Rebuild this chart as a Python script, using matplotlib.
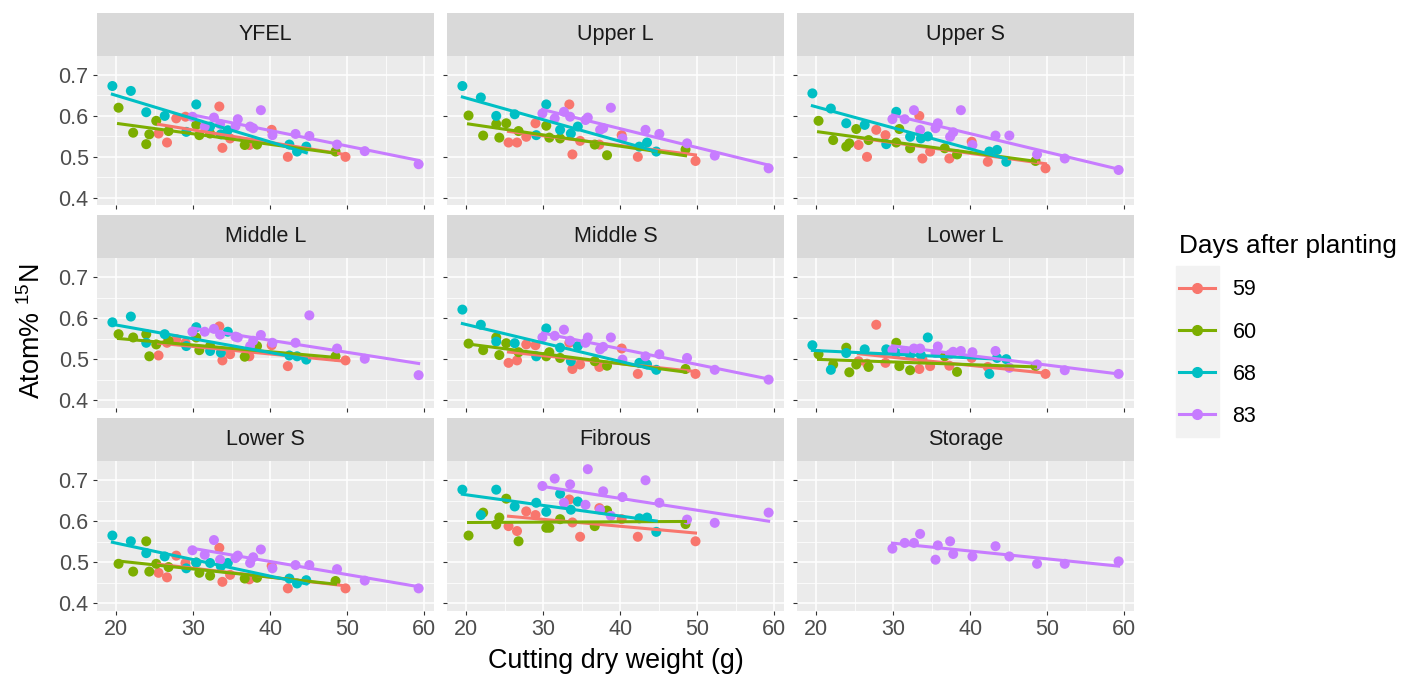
import numpy as np
import matplotlib.pyplot as plt
from matplotlib.lines import Line2D
from matplotlib.patches import Rectangle

plt.rcParams['font.family'] = ['Liberation Sans', 'DejaVu Sans']
plt.rcParams['mathtext.fontset'] = 'custom'
plt.rcParams['mathtext.rm'] = 'Liberation Sans'

# Days after planting and their colours
days = [59, 60, 68, 83]
colors = ['#F8766D', '#7CAE00', '#00BFC4', '#C77CFF']

# Cutting dry weight (g) of the plants sampled at each harvest
x59 = [25.5, 26.6, 27.8, 29.0, 33.4, 33.8, 34.8, 37.3, 40.2, 42.3, 49.8]
x60 = [20.3, 22.2, 23.9, 24.3, 25.2, 26.8, 30.4, 30.8, 32.2, 36.7, 38.3, 48.5]
x68 = [19.5, 21.9, 23.9, 26.3, 29.1, 30.4, 32.2, 33.6, 34.5, 42.5, 43.5, 44.7]
x83 = [29.9, 31.5, 32.7, 33.5, 35.5, 35.8, 37.4, 37.8, 38.8, 40.3, 43.3, 45.1, 48.7, 52.3, 59.3]
xs = {59: x59, 60: x60, 68: x68, 83: x83}

tissues = ['YFEL', 'Upper L', 'Upper S', 'Middle L', 'Middle S', 'Lower L',
           'Lower S', 'Fibrous', 'Storage']

# Atom% 15N per tissue
yfel = {
    59: [0.557, 0.535, 0.594, 0.598, 0.623, 0.522, 0.545, 0.529, 0.566, 0.500, 0.500],
    60: [0.620, 0.559, 0.531, 0.555, 0.588, 0.563, 0.578, 0.553, 0.557, 0.529, 0.530, 0.513],
    68: [0.673, 0.661, 0.609, 0.600, 0.561, 0.628, 0.574, 0.555, 0.565, 0.530, 0.513, 0.525],
    83: [0.598, 0.574, 0.596, 0.580, 0.575, 0.592, 0.574, 0.570, 0.614, 0.553, 0.556, 0.551, 0.530, 0.514, 0.482],
}
upper_l = {
    59: [0.535, 0.535, 0.549, 0.582, 0.628, 0.506, 0.539, 0.530, 0.553, 0.500, 0.490],
    60: [0.601, 0.552, 0.580, 0.547, 0.582, 0.563, 0.576, 0.547, 0.545, 0.530, 0.504, 0.518],
    68: [0.673, 0.645, 0.600, 0.604, 0.553, 0.628, 0.566, 0.557, 0.574, 0.525, 0.535, 0.513],
    83: [0.606, 0.594, 0.610, 0.598, 0.590, 0.596, 0.566, 0.570, 0.620, 0.545, 0.566, 0.556, 0.533, 0.503, 0.472],
}
upper_s = {
    59: [0.529, 0.500, 0.566, 0.553, 0.600, 0.496, 0.513, 0.496, 0.537, 0.488, 0.472],
    60: [0.588, 0.541, 0.525, 0.533, 0.568, 0.541, 0.535, 0.568, 0.521, 0.521, 0.506, 0.490],
    68: [0.655, 0.618, 0.582, 0.578, 0.531, 0.610, 0.549, 0.545, 0.550, 0.513, 0.517, 0.488],
    83: [0.592, 0.592, 0.614, 0.566, 0.570, 0.582, 0.549, 0.560, 0.614, 0.529, 0.552, 0.552, 0.506, 0.496, 0.468],
}
middle_l = {
    59: [0.509, 0.540, 0.549, 0.540, 0.580, 0.497, 0.512, 0.507, 0.534, 0.483, 0.497],
    60: [0.561, 0.553, 0.561, 0.507, 0.536, 0.545, 0.553, 0.522, 0.532, 0.506, 0.532, 0.507],
    68: [0.590, 0.604, 0.540, 0.561, 0.532, 0.578, 0.520, 0.516, 0.567, 0.509, 0.507, 0.499],
    83: [0.567, 0.567, 0.574, 0.560, 0.555, 0.553, 0.532, 0.545, 0.559, 0.540, 0.540, 0.607, 0.526, 0.501, 0.461],
}
middle_s = {
    59: [0.491, 0.497, 0.536, 0.534, 0.540, 0.476, 0.487, 0.481, 0.526, 0.464, 0.464],
    60: [0.538, 0.522, 0.553, 0.510, 0.539, 0.517, 0.507, 0.517, 0.503, 0.495, 0.484, 0.476],
    68: [0.621, 0.584, 0.543, 0.539, 0.507, 0.575, 0.528, 0.495, 0.532, 0.491, 0.487, 0.474],
    83: [0.553, 0.557, 0.572, 0.545, 0.540, 0.553, 0.524, 0.530, 0.553, 0.499, 0.507, 0.512, 0.503, 0.474, 0.450],
}
lower_l = {
    59: [0.495, 0.489, 0.584, 0.491, 0.476, 0.500, 0.483, 0.484, 0.503, 0.481, 0.464],
    60: [0.512, 0.487, 0.528, 0.468, 0.487, 0.481, 0.540, 0.483, 0.473, 0.507, 0.469, 0.483],
    68: [0.534, 0.474, 0.515, 0.524, 0.524, 0.515, 0.510, 0.510, 0.553, 0.464, 0.503, 0.500],
    83: [0.522, 0.520, 0.526, 0.526, 0.515, 0.531, 0.512, 0.518, 0.520, 0.517, 0.520, 0.479, 0.487, 0.473, 0.464],
}
lower_s = {
    59: [0.474, 0.463, 0.516, 0.498, 0.535, 0.452, 0.469, 0.458, 0.491, 0.436, 0.436],
    60: [0.496, 0.477, 0.551, 0.477, 0.496, 0.488, 0.499, 0.474, 0.467, 0.460, 0.462, 0.454],
    68: [0.565, 0.551, 0.522, 0.514, 0.485, 0.499, 0.498, 0.490, 0.498, 0.460, 0.448, 0.456],
    83: [0.529, 0.518, 0.554, 0.506, 0.510, 0.516, 0.498, 0.512, 0.531, 0.485, 0.493, 0.493, 0.483, 0.455, 0.436],
}
fibrous = {
    59: [0.588, 0.576, 0.624, 0.615, 0.653, 0.597, 0.562, 0.632, 0.605, 0.562, 0.551],
    60: [0.565, 0.621, 0.592, 0.609, 0.655, 0.551, 0.584, 0.584, 0.605, 0.588, 0.626, 0.593],
    68: [0.677, 0.615, 0.677, 0.636, 0.645, 0.623, 0.667, 0.628, 0.648, 0.607, 0.609, 0.574],
    83: [0.686, 0.704, 0.645, 0.690, 0.640, 0.727, 0.628, 0.673, 0.613, 0.659, 0.700, 0.645, 0.604, 0.596, 0.621],
}
storage = {
    83: [0.533, 0.547, 0.547, 0.569, 0.506, 0.541, 0.551, 0.520, np.nan, 0.514, 0.539, 0.514, 0.496, 0.496, 0.502],
}
panels = [yfel, upper_l, upper_s, middle_l, middle_s, lower_l, lower_s, fibrous, storage]

W, H = 1402, 677
fig = plt.figure(figsize=(W / 100, H / 100), dpi=100)


def px_axes(left, top, w, h):
    return fig.add_axes([left / W, 1 - (top + h) / H, w / W, h / H])


col_left = [97, 447, 797]
row_top = [55.7, 258, 461]
pw, ph, strip_h = 337, 149.5, 43

for i, (name, data) in enumerate(zip(tissues, panels)):
    r, c = divmod(i, 3)
    ax = px_axes(col_left[c], row_top[r], pw, ph)
    ax.set_facecolor('#EBEBEB')
    ax.set_xlim(17.5, 61.3)
    ax.set_ylim(0.382, 0.747)
    ax.set_xticks([20, 30, 40, 50, 60])
    ax.set_xticks([25, 35, 45, 55], minor=True)
    ax.set_yticks([0.4, 0.5, 0.6, 0.7])
    ax.set_yticks([0.45, 0.55, 0.65], minor=True)
    ax.grid(True, which='major', color='white', lw=1.1)
    ax.grid(True, which='minor', color='white', lw=0.55)
    ax.set_axisbelow(True)
    for s in ax.spines.values():
        s.set_visible(False)
    ax.tick_params(which='major', length=3, width=0.8, color='#333333',
                   labelsize=15.5, labelcolor='#4D4D4D', pad=3)
    ax.tick_params(which='minor', length=0)
    ax.yaxis.set_major_formatter(plt.FormatStrFormatter('%.1f'))
    if c != 0:
        ax.tick_params(axis='y', labelleft=False)
    if r != 2:
        ax.tick_params(axis='x', labelbottom=False)

    # points first, then straight-line fits on top
    for d, col in zip(days, colors):
        if d in data:
            ax.scatter(xs[d], data[d], s=52, color=col, edgecolors='none', zorder=3)
    for d, col in zip(days, colors):
        if d in data:
            x = np.array(xs[d])
            y = np.array(data[d])
            ok = ~np.isnan(y)
            k, b = np.polyfit(x[ok], y[ok], 1)
            xx = np.sort(x[ok])
            ax.plot(xx, k * xx + b, color=col, lw=2.2, zorder=4)

    st = px_axes(col_left[c], row_top[r] - strip_h, pw, strip_h)
    st.set_facecolor('#D9D9D9')
    st.set_xticks([])
    st.set_yticks([])
    for s in st.spines.values():
        s.set_visible(False)
    st.text(0.5, 0.5, name, ha='center', va='center', fontsize=15.5,
            color='#1A1A1A', transform=st.transAxes)

fig.text(615.5 / W, 1 - 661 / H, 'Cutting dry weight (g)', ha='center', va='center',
         fontsize=19.4)
fig.text(32 / W, 1 - 331 / H, r'Atom% $^{\mathregular{15}}$N', ha='center', va='center',
         rotation=90, fontsize=19.4)

# legend with grey key background
fig.add_artist(Rectangle((1176 / W, 1 - 437 / H), 43 / W, 171 / H,
                         transform=fig.transFigure, color='#F2F2F2', zorder=0))
handles = [Line2D([], [], color=col, lw=2.2, marker='o', markersize=7) for col in colors]
fig.legend(handles, [str(d) for d in days], loc='upper left',
           bbox_to_anchor=(1160 / W, 1 - 215 / H), frameon=False,
           title='Days after planting', title_fontsize=18.8, fontsize=15.5,
           handlelength=1.67, handletextpad=0.8, labelspacing=0.98,
           alignment='left')

fig.savefig('out.png', dpi=100)
